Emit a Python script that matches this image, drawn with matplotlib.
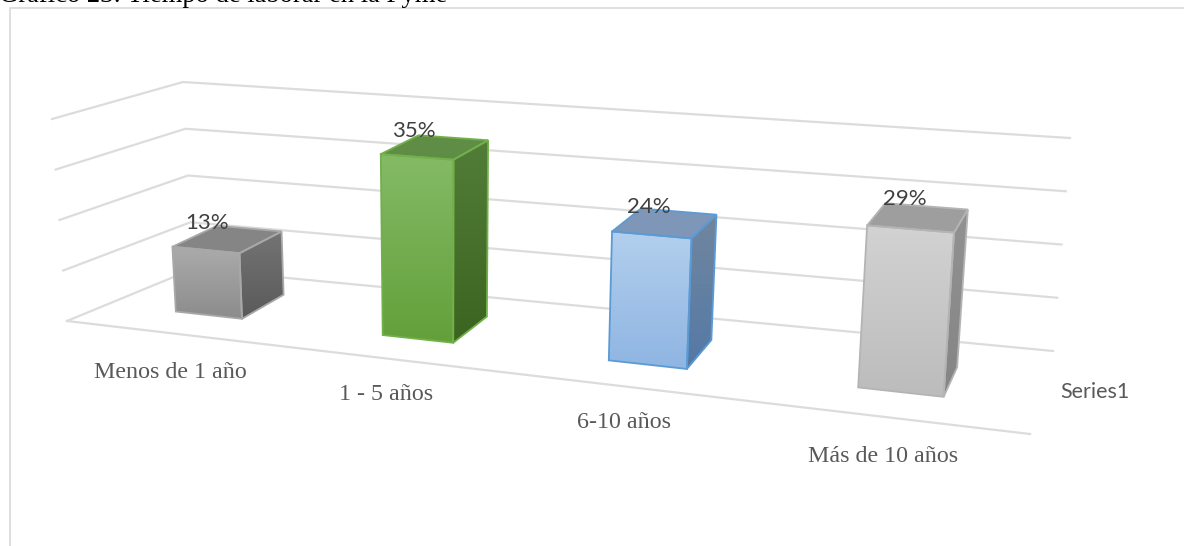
import numpy as np
import matplotlib
matplotlib.use("Agg")
from matplotlib import pyplot as plt
from matplotlib.colors import LinearSegmentedColormap
from matplotlib.patches import Polygon

categories = ["Menos de 1 año", "1 - 5 años", "6-10 años", "Más de 10 años"]
values = [13, 35, 24, 29]
grid_levels = [0, 10, 20, 30, 40]
series_name = "Series1"
title = "Gráfico 23: Tiempo de laborar en la Pyme"

front_colors = [("#ababab", "#8c8c8c"), ("#84ba66", "#63a03a"), ("#b2cfed", "#8fb5e2"), ("#d2d2d2", "#bcbcbc")]
side_colors = [("#747474", "#5a5a5a"), ("#527d38", "#3b6420"), ("#71869f", "#5479a6"), ("#929292", "#858585")]
top_colors = ["#858585", "#5f8d46", "#7e97b8", "#9e9e9e"]
edge_colors = ["#a8a8a8", "#72b04a", "#5b9bd5", "#b4b4b4"]

# box corners in pixels: front left, front right, back right, back left
floor_px = np.array([[67, 321], [1030, 434], [1053, 351], [193, 269]], float)
ceil_px = np.array([[52, 119], [1046, 196], [1070, 138], [183, 82]], float)

# bar placement on the floor, the chart's perspective is weaker than the box corners give
bar_center = [0.55, 1.59, 2.585, 3.536]
bar_width = [0.35, 0.326, 0.315, 0.30]
bar_front = [0.30, 0.29, 0.285, 0.29]
bar_back = [0.72, 0.70, 0.69, 0.66]
bar_skew = [-0.035, -0.025, -0.015, 0.0]
value_label_dx = [-24, -24, -18, -14]
value_label_dy = [-16, -16, -16, -18]


def homography(corners):
    src = [(0, 0), (4, 0), (4, 1), (0, 1)]
    A, b = [], []
    for (u, v), (x, y) in zip(src, corners):
        A.append([u, v, 1, 0, 0, 0, -u * x, -v * x])
        A.append([0, 0, 0, u, v, 1, -u * y, -v * y])
        b += [x, y]
    return np.append(np.linalg.solve(np.array(A), np.array(b)), 1).reshape(3, 3)


H_floor = homography(floor_px)
H_ceil = homography(ceil_px)


def project(u, v, level):
    p = H_floor @ [u, v, 1]
    q = H_ceil @ [u, v, 1]
    p = p[:2] / p[2]
    q = q[:2] / q[2]
    return p + (q - p) * level / grid_levels[-1]


def gradient_face(ax, pts, cols, z):
    pts = np.array(pts)
    cmap = LinearSegmentedColormap.from_list("f", cols)
    im = ax.imshow(np.linspace(0, 1, 64).reshape(-1, 1), cmap=cmap, aspect="auto", zorder=z,
                   extent=(pts[:, 0].min(), pts[:, 0].max(), pts[:, 1].max(), pts[:, 1].min()))
    im.set_clip_path(Polygon(pts, transform=ax.transData))


fig = plt.figure(figsize=(11.84, 5.46), dpi=100)
ax = fig.add_axes([0, 0, 1, 1])
ax.axis("off")

# chart frame
ax.plot([9.5, 9.5, 1184], [546, 7.5, 7.5], color="#d9d9d9", lw=1.2)

# wall gridlines
for level in grid_levels:
    pts = np.array([project(0, 0, level), project(0, 1, level), project(4, 1, level)])
    ax.plot(pts[:, 0], pts[:, 1], color="#dcdcdc", lw=1.6, zorder=1)
pts = np.array([project(0, 0, 0), project(4, 0, 0)])
ax.plot(pts[:, 0], pts[:, 1], color="#dcdcdc", lw=1.6, zorder=1)

# bars
for i, val in enumerate(values):
    u0 = bar_center[i] - bar_width[i] / 2
    u1 = bar_center[i] + bar_width[i] / 2
    s = bar_skew[i]
    v0, v1 = bar_front[i], bar_back[i]
    front = [project(u0, v0, 0), project(u1, v0, 0), project(u1, v0, val), project(u0, v0, val)]
    side = [project(u1, v0, 0), project(u1 + s, v1, 0), project(u1 + s, v1, val), project(u1, v0, val)]
    top = [project(u0, v0, val), project(u1, v0, val), project(u1 + s, v1, val), project(u0 + s, v1, val)]
    z = 3 + i
    gradient_face(ax, front, front_colors[i], z)
    gradient_face(ax, side, side_colors[i], z)
    ax.add_patch(Polygon(top, closed=True, facecolor=top_colors[i], edgecolor="none", zorder=z))
    for face in (front, side, top):
        ax.add_patch(Polygon(face, closed=True, fill=False, edgecolor=edge_colors[i], lw=1.3, zorder=z + 0.5))
    lx, ly = project(bar_center[i], (v0 + v1) / 2, val)
    ax.text(lx + value_label_dx[i], ly + value_label_dy[i], f"{val}%", ha="center", va="center", fontsize=16,
            family="Lato", color="#404040", zorder=10)

# category and series labels
label_xy = [(170, 372), (386, 395), (624, 422), (883, 457)]
for name, (x, y) in zip(categories, label_xy):
    ax.text(x, y, name, ha="center", va="center", fontsize=17.3, family="Liberation Serif", color="#595959")
ax.text(1095, 392, series_name, ha="center", va="center", fontsize=15.5, family="Lato", color="#595959")

ax.text(-1, 2, title, ha="left", va="baseline", fontsize=19.2, family="Liberation Serif", color="black")

ax.set_xlim(0, 1184)
ax.set_ylim(546, 0)
fig.savefig("out.png", dpi=100)
